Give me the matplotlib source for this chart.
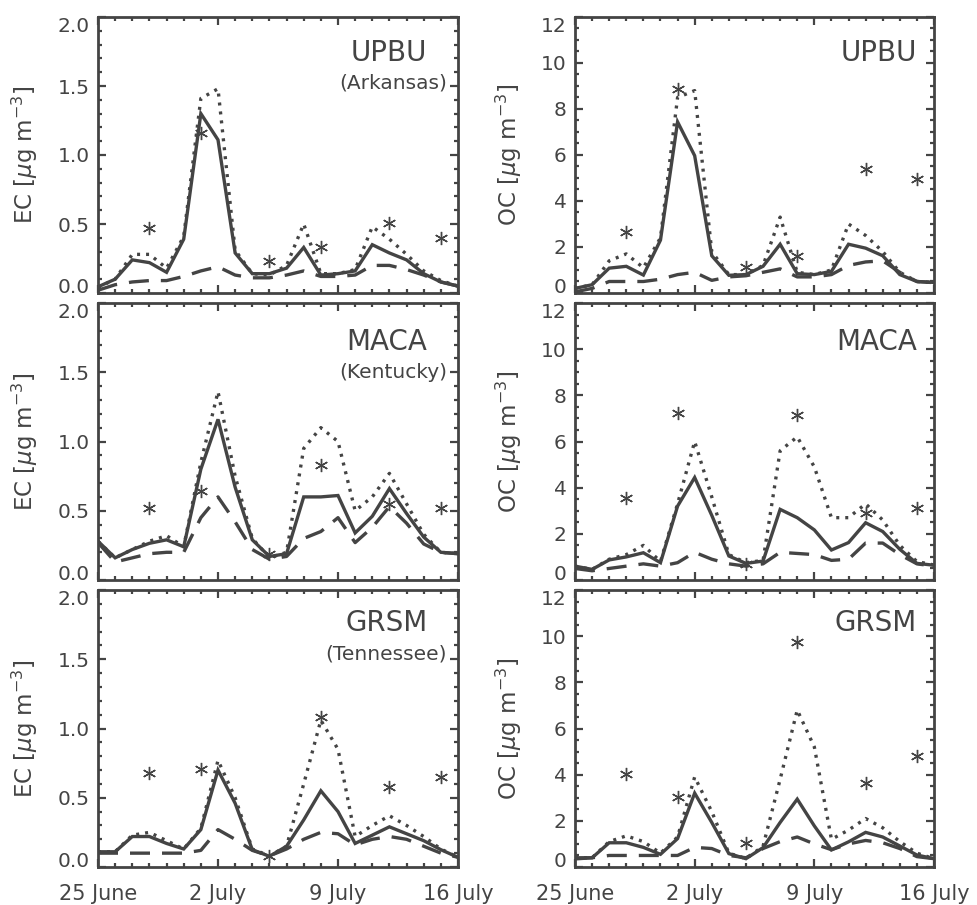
import numpy as np
import matplotlib
matplotlib.use("Agg")
import matplotlib.pyplot as plt
from matplotlib.ticker import MultipleLocator

plt.rcParams.update({
    "font.family": "DejaVu Sans",
    "font.size": 14.5,
})

INK = "#444444"

# daily model output, 25 June (day 0) .. 16 July (day 21)
DAYS = np.arange(22)
OBS_DAYS = [3, 6, 10, 13, 17, 20]
DATE_TICKS = [0, 7, 14, 21]
DATE_LABELS = ["25 June", "2 July", "9 July", "16 July"]

SITES = ["UPBU", "MACA", "GRSM"]
STATES = ["(Arkansas)", "(Kentucky)", "(Tennessee)"]

# ---- EC ----
UPBU_EC_SOLID = [0.045, 0.10, 0.24, 0.22, 0.15, 0.39, 1.30, 1.11, 0.29, 0.14, 0.14, 0.18,
                 0.33, 0.13, 0.14, 0.16, 0.35, 0.29, 0.24, 0.14, 0.08, 0.05]
UPBU_EC_DOT = [0.04, 0.10, 0.28, 0.28, 0.18, 0.41, 1.41, 1.48, 0.31, 0.14, 0.13, 0.20,
               0.50, 0.14, 0.14, 0.17, 0.48, 0.39, 0.28, 0.16, 0.09, 0.05]
UPBU_EC_DASH = [0.02, 0.06, 0.08, 0.09, 0.09, 0.12, 0.16, 0.19, 0.13, 0.11, 0.11, 0.13,
                0.16, 0.12, 0.12, 0.13, 0.20, 0.20, 0.17, 0.13, 0.08, 0.05]
UPBU_EC_OBS = [0.47, 1.16, 0.23, 0.33, 0.51, 0.40]

MACA_EC_SOLID = [0.28, 0.16, 0.22, 0.265, 0.29, 0.24, 0.80, 1.16, 0.67, 0.29, 0.17, 0.19,
                 0.60, 0.60, 0.61, 0.34, 0.46, 0.66, 0.48, 0.31, 0.20, 0.19]
MACA_EC_DOT = [0.28, 0.16, 0.22, 0.28, 0.32, 0.24, 0.85, 1.36, 0.75, 0.30, 0.16, 0.20,
               0.95, 1.10, 1.00, 0.50, 0.60, 0.77, 0.55, 0.33, 0.20, 0.19]
MACA_EC_DASH = [0.27, 0.13, 0.16, 0.19, 0.20, 0.20, 0.45, 0.60, 0.42, 0.22, 0.15, 0.17,
                0.30, 0.35, 0.45, 0.27, 0.38, 0.53, 0.41, 0.26, 0.20, 0.19]
MACA_EC_OBS = [0.52, 0.64, 0.19, 0.83, 0.55, 0.52]

GRSM_EC_SOLID = [0.11, 0.11, 0.22, 0.22, 0.17, 0.13, 0.27, 0.70, 0.46, 0.125, 0.077, 0.15,
                 0.34, 0.55, 0.40, 0.17, 0.23, 0.29, 0.24, 0.19, 0.125, 0.07]
GRSM_EC_DOT = [0.11, 0.11, 0.23, 0.25, 0.19, 0.13, 0.28, 0.77, 0.50, 0.13, 0.08, 0.15,
               0.60, 1.06, 0.85, 0.22, 0.30, 0.37, 0.30, 0.22, 0.13, 0.07]
GRSM_EC_DASH = [0.10, 0.10, 0.10, 0.10, 0.10, 0.10, 0.12, 0.27, 0.20, 0.12, 0.08, 0.13,
                0.20, 0.25, 0.24, 0.16, 0.20, 0.22, 0.20, 0.15, 0.10, 0.07]
GRSM_EC_OBS = [0.68, 0.71, 0.08, 1.08, 0.58, 0.65]

# ---- OC ----
UPBU_OC_SOLID = [0.2, 0.36, 1.08, 1.16, 0.78, 2.3, 7.44, 5.97, 1.62, 0.77, 0.8, 1.16,
                 2.12, 0.84, 0.8, 0.94, 2.12, 1.95, 1.62, 0.8, 0.5, 0.46]
UPBU_OC_DOT = [0.2, 0.36, 1.4, 1.7, 1.1, 2.4, 8.5, 8.8, 1.8, 0.8, 0.8, 1.2,
               3.3, 0.9, 0.8, 1.0, 3.0, 2.5, 1.8, 0.9, 0.5, 0.45]
UPBU_OC_DASH = [0.05, 0.2, 0.5, 0.5, 0.5, 0.6, 0.8, 0.9, 0.55, 0.7, 0.75, 0.9,
                1.05, 0.7, 0.7, 0.8, 1.2, 1.35, 1.4, 0.9, 0.5, 0.45]
UPBU_OC_OBS = [2.65, 8.85, 1.15, 1.6, 5.4, 4.95]

MACA_OC_SOLID = [0.6, 0.46, 0.87, 1.0, 1.18, 0.75, 3.2, 4.44, 2.8, 1.04, 0.72, 0.82,
                 3.06, 2.7, 2.17, 1.3, 1.62, 2.48, 2.1, 1.33, 0.72, 0.64]
MACA_OC_DOT = [0.6, 0.46, 0.9, 1.1, 1.5, 0.8, 3.3, 6.0, 3.6, 1.1, 0.75, 0.85,
               5.6, 6.2, 4.9, 2.7, 2.7, 3.3, 2.6, 1.5, 0.8, 0.65]
MACA_OC_DASH = [0.5, 0.4, 0.5, 0.6, 0.7, 0.6, 0.75, 1.2, 0.9, 0.7, 0.6, 0.7,
                1.2, 1.15, 1.1, 0.85, 0.9, 1.6, 1.6, 1.1, 0.7, 0.6]
MACA_OC_OBS = [3.55, 7.25, 0.7, 7.15, 2.9, 3.1]

GRSM_OC_SOLID = [0.4, 0.4, 1.05, 1.05, 0.85, 0.55, 1.23, 3.2, 1.93, 0.58, 0.36, 0.84,
                 1.93, 2.94, 1.78, 0.74, 1.09, 1.5, 1.3, 0.91, 0.52, 0.36]
GRSM_OC_DOT = [0.4, 0.4, 1.1, 1.35, 1.1, 0.6, 1.3, 3.9, 2.4, 0.6, 0.36, 0.9,
               3.8, 6.8, 5.2, 1.2, 1.6, 2.1, 1.7, 1.1, 0.6, 0.36]
GRSM_OC_DASH = [0.35, 0.4, 0.5, 0.5, 0.5, 0.5, 0.5, 0.85, 0.8, 0.5, 0.4, 0.8,
                1.1, 1.3, 1.0, 0.75, 1.0, 1.15, 1.05, 0.8, 0.45, 0.36]
GRSM_OC_OBS = [4.05, 3.05, 1.05, 9.75, 3.65, 4.8]

EC_ROWS = [
    (UPBU_EC_SOLID, UPBU_EC_DOT, UPBU_EC_DASH, UPBU_EC_OBS),
    (MACA_EC_SOLID, MACA_EC_DOT, MACA_EC_DASH, MACA_EC_OBS),
    (GRSM_EC_SOLID, GRSM_EC_DOT, GRSM_EC_DASH, GRSM_EC_OBS),
]
OC_ROWS = [
    (UPBU_OC_SOLID, UPBU_OC_DOT, UPBU_OC_DASH, UPBU_OC_OBS),
    (MACA_OC_SOLID, MACA_OC_DOT, MACA_OC_DASH, MACA_OC_OBS),
    (GRSM_OC_SOLID, GRSM_OC_DOT, GRSM_OC_DASH, GRSM_OC_OBS),
]
EC_TICKS = [0.0, 0.5, 1.0, 1.5, 2.0]
OC_TICKS = [0, 2, 4, 6, 8, 10, 12]

W, H = 977, 905
LEFT_X = (98, 458)
RIGHT_X = (575, 934)
ROW_Y = [(17, 293), (303, 580), (590, 867)]
SITE_Y = [0.87, 0.86, 0.88]
STATE_Y = [0.76, 0.75, 0.77]


def px_axes(fig, xr, yr):
    return fig.add_axes([xr[0] / W, 1 - yr[1] / H, (xr[1] - xr[0]) / W, (yr[1] - yr[0]) / H])


def style_axes(ax, yticks, yminor, fmt, bottom_row):
    ax.set_xlim(0, 21)
    ax.set_ylim(yticks[0], yticks[-1])
    ax.set_xticks(DATE_TICKS)
    ax.xaxis.set_minor_locator(MultipleLocator(1))
    ax.set_yticks(yticks)
    ax.set_yticklabels([fmt % v for v in yticks])
    ax.yaxis.set_minor_locator(MultipleLocator(yminor))
    if bottom_row:
        ax.set_xticklabels(DATE_LABELS)
    else:
        ax.set_xticklabels([])
    ax.tick_params(which="both", direction="in", top=True, right=True, colors=INK,
                   labelcolor=INK, width=1.6)
    ax.tick_params(which="major", length=6)
    ax.tick_params(axis="y", which="major", pad=6, labelsize=14.5)
    ax.tick_params(axis="x", which="major", pad=12, labelsize=15)
    ax.tick_params(which="minor", length=3)
    # keep end labels inside the frame, as in the original
    labs = ax.get_yticklabels()
    labs[0].set_verticalalignment("baseline")
    labs[-1].set_verticalalignment("top")
    for sp in ax.spines.values():
        sp.set_color(INK)
        sp.set_linewidth(2.0)


def draw(ax, solid, dot, dash, obs):
    ax.plot(DAYS, dot, color=INK, lw=2.4, ls=(0, (0.9, 1.8)), dash_capstyle="butt")
    ax.plot(DAYS, dash, color=INK, lw=2.4, ls=(0, (6.0, 3.6)))
    ax.plot(DAYS, solid, color=INK, lw=2.4, solid_joinstyle="miter")
    ax.plot(OBS_DAYS, obs, ls="none", marker=(6, 2, 0), ms=9.5, mew=1.0,
            color=INK, clip_on=False)


fig = plt.figure(figsize=(W / 100, H / 100), dpi=100)

for i in range(3):
    bottom = i == 2
    ax = px_axes(fig, LEFT_X, ROW_Y[i])
    draw(ax, *EC_ROWS[i])
    style_axes(ax, EC_TICKS, 0.1, "%.1f", bottom)
    ax.set_ylabel(r"EC [$\mu$g m$^{-3}$]", color=INK, fontsize=16.5)
    ax.yaxis.set_label_coords(-0.16, 0.5)
    ax.text(0.915, SITE_Y[i], SITES[i], transform=ax.transAxes, ha="right", va="center",
            fontsize=20, color=INK)
    ax.text(0.97, STATE_Y[i], STATES[i], transform=ax.transAxes, ha="right", va="center",
            fontsize=14.5, color=INK)

    ax = px_axes(fig, RIGHT_X, ROW_Y[i])
    draw(ax, *OC_ROWS[i])
    style_axes(ax, OC_TICKS, 0.5, "%d", bottom)
    ax.set_ylabel(r"OC [$\mu$g m$^{-3}$]", color=INK, fontsize=16.5)
    ax.yaxis.set_label_coords(-0.142, 0.5)
    ax.text(0.953, SITE_Y[i], SITES[i], transform=ax.transAxes, ha="right", va="center",
            fontsize=20, color=INK)

fig.savefig("out.png", dpi=100)
